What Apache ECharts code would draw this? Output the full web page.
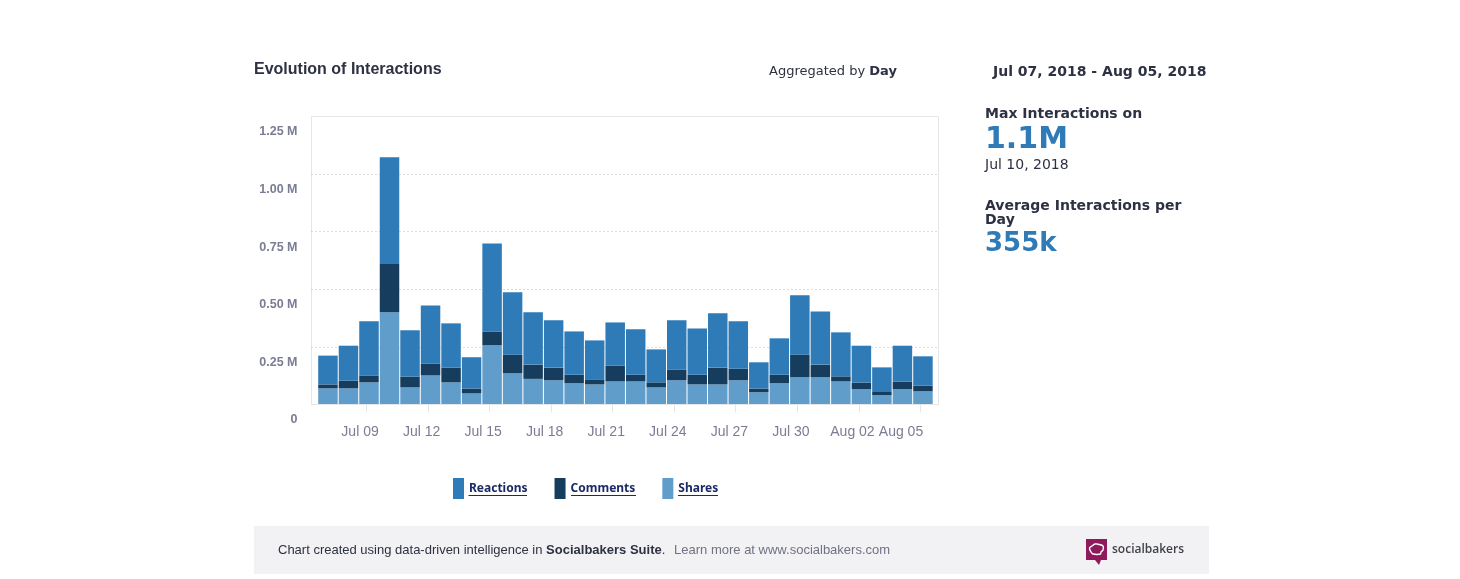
<!DOCTYPE html>
<html>
<head>
<meta charset="utf-8">
<title>Evolution of Interactions</title>
<script src="https://cdn.jsdelivr.net/npm/echarts@6/dist/echarts.min.js"></script>
<style>
  html, body { margin: 0; padding: 0; background: #fff; }
  #chart { width: 1460px; height: 579px; }
</style>
</head>
<body>
<div id="chart"></div>
<script>
var days = [
  'Jul 07', 'Jul 08', 'Jul 09', 'Jul 10', 'Jul 11', 'Jul 12', 'Jul 13', 'Jul 14', 'Jul 15', 'Jul 16',
  'Jul 17', 'Jul 18', 'Jul 19', 'Jul 20', 'Jul 21', 'Jul 22', 'Jul 23', 'Jul 24', 'Jul 25', 'Jul 26',
  'Jul 27', 'Jul 28', 'Jul 29', 'Jul 30', 'Jul 31', 'Aug 01', 'Aug 02', 'Aug 03', 'Aug 04', 'Aug 05'
];
var shares = [68000, 68000, 94000, 398000, 72000, 124000, 94000, 46000, 255000, 133000, 109000, 103000, 90000, 85000, 98000, 98000, 72000, 103000, 85000, 85000, 103000, 51000, 90000, 116000, 116000, 98000, 64000, 38000, 64000, 55000];
var comments = [17000, 33000, 29000, 210000, 47000, 51000, 64000, 21000, 59000, 81000, 62000, 55000, 37000, 22000, 68000, 29000, 22000, 46000, 42000, 73000, 50000, 16000, 37000, 98000, 55000, 22000, 29000, 14000, 33000, 25000];
var reactions = [125000, 152000, 236000, 463000, 201000, 253000, 192000, 136000, 383000, 271000, 227000, 205000, 188000, 169000, 188000, 197000, 143000, 214000, 201000, 236000, 206000, 114000, 158000, 258000, 231000, 191000, 160000, 107000, 156000, 127000];
var labelDays = [2, 5, 8, 11, 14, 17, 20, 23, 26, 29];

var darkText = '#2d3142';
var axisText = '#7a7d93';

function barSeries(name, values, color) {
  return {
    name: name,
    type: 'bar',
    stack: 'interactions',
    xAxisIndex: 1,
    yAxisIndex: 1,
    barWidth: 19.5,
    data: values,
    itemStyle: { color: color },
    emphasis: { disabled: true }
  };
}

function text(x, y, str, font, color) {
  return {
    type: 'text',
    x: x,
    y: y,
    style: { text: str, font: font, fill: color || darkText, textVerticalAlign: 'middle' }
  };
}

function underline(x1, x2) {
  return {
    type: 'line',
    shape: { x1: x1, y1: 495.5, x2: x2, y2: 495.5 },
    style: { stroke: '#1b2a66', lineWidth: 1 }
  };
}

var chart = echarts.init(document.getElementById('chart'));
chart.setOption({
  animation: false,
  title: {
    text: 'Evolution of Interactions',
    left: 254,
    top: 61.5,
    padding: 0,
    textStyle: { fontFamily: 'Liberation Sans', fontSize: 16, fontWeight: 'bold', color: darkText }
  },
  legend: {
    left: 453,
    top: 478,
    padding: 0,
    itemWidth: 11,
    itemHeight: 21,
    itemGap: 27,
    icon: 'rect',
    selectedMode: false,
    data: ['Reactions', 'Comments', 'Shares'],
    textStyle: { fontFamily: 'Noto Sans', fontSize: 12, fontWeight: 'bold', color: '#1b2a66', padding: [7, 0, 0, 0] }
  },
  // outer grid holds the frame and the axes, inner grid holds the bars with a small inset
  grid: [
    {
      left: 311.5,
      top: 116.5,
      width: 627,
      height: 288,
      show: true,
      borderColor: '#e6e6e6',
      borderWidth: 1,
      backgroundColor: '#fff'
    },
    {
      left: 317.7,
      top: 116,
      width: 615.5,
      height: 288
    }
  ],
  xAxis: [
    {
      type: 'value',
      gridIndex: 0,
      min: -0.804,
      max: 29.755,
      splitLine: { show: false },
      axisLine: { show: true, lineStyle: { color: '#e6e6e6' } },
      axisTick: {
        show: true,
        length: 8,
        lineStyle: { color: '#e6e6e6' },
        customValues: labelDays.map(function (d) { return d - 0.13; })
      },
      axisLabel: {
        customValues: labelDays,
        margin: 21,
        hideOverlap: false,
        fontFamily: 'Liberation Sans',
        fontSize: 14,
        color: axisText,
        padding: [0, 18, 0, 0],
        formatter: function (v) {
          var name = days[v];
          return v === 29 ? '{last|' + name + '}' : name;
        },
        rich: {
          last: { fontFamily: 'Liberation Sans', fontSize: 14, color: axisText, padding: [0, 26, 0, 0] }
        }
      }
    },
    {
      type: 'category',
      gridIndex: 1,
      data: days,
      show: false
    }
  ],
  yAxis: [
    {
      type: 'value',
      gridIndex: 0,
      min: 0,
      max: 1250000,
      interval: 250000,
      axisLine: { show: false },
      axisTick: { show: false },
      splitLine: {
        show: true,
        showMinLine: false,
        showMaxLine: false,
        lineStyle: { color: '#bdbdbd', type: [1, 3], width: 1 }
      },
      axisLabel: {
        margin: 14,
        fontFamily: 'Liberation Sans',
        fontSize: 12.5,
        fontWeight: 'bold',
        color: axisText,
        verticalAlign: 'top',
        padding: [9, 0, 0, 0],
        formatter: function (v) {
          return v === 0 ? '0' : (v / 1000000).toFixed(2) + ' M';
        }
      }
    },
    {
      type: 'value',
      gridIndex: 1,
      min: 0,
      max: 1250000,
      show: false,
      splitLine: { show: false }
    }
  ],
  series: [
    barSeries('Shares', shares, '#619dcb'),
    barSeries('Comments', comments, '#173d5e'),
    barSeries('Reactions', reactions, '#2e7bb8')
  ],
  graphic: [
    // header
    {
      type: 'text',
      x: 769,
      y: 72,
      style: {
        text: 'Aggregated by {b|Day}',
        font: '13px "DejaVu Sans"',
        fill: darkText,
        textVerticalAlign: 'middle',
        rich: { b: { font: 'bold 13px "DejaVu Sans"', fill: darkText } }
      }
    },
    text(993, 72, 'Jul 07, 2018 - Aug 05, 2018', 'bold 14px "DejaVu Sans"'),

    // side stats
    text(985, 114, 'Max Interactions on', 'bold 14px "DejaVu Sans"'),
    text(985, 140.5, '1.1M', 'bold 30px "DejaVu Sans"', '#2e7bb8'),
    text(985, 165, 'Jul 10, 2018', '14px "DejaVu Sans"'),
    text(985, 206, 'Average Interactions per', 'bold 14px "DejaVu Sans"'),
    text(985, 220, 'Day', 'bold 14px "DejaVu Sans"'),
    text(985, 244.5, '355k', 'bold 26px "DejaVu Sans"', '#2e7bb8'),

    // legend underlines
    underline(468.5, 527),
    underline(571, 636),
    underline(678, 718),

    // footer
    { type: 'rect', z: -1, shape: { x: 254, y: 526, width: 955, height: 48 }, style: { fill: '#f2f2f5' } },
    {
      type: 'text',
      x: 278,
      y: 550,
      style: {
        text: 'Chart created using data-driven intelligence in {b|Socialbakers Suite}.  {g|Learn more at www.socialbakers.com}',
        font: '13px "Liberation Sans"',
        fill: darkText,
        textVerticalAlign: 'middle',
        rich: {
          b: { font: 'bold 13px "Liberation Sans"', fill: darkText },
          g: { font: '13px "Liberation Sans"', fill: '#6f7285', padding: [0, 0, 0, 1.5] }
        }
      }
    },

    // logo
    {
      type: 'polygon',
      shape: { points: [[1086, 539], [1107, 539], [1107, 560], [1101, 560], [1099, 565], [1095, 560], [1086, 560]] },
      style: { fill: '#8e1a5c' }
    },
    {
      type: 'polygon',
      shape: { points: [[1091, 552], [1089.5, 548], [1092, 546], [1095, 544], [1099, 544.5], [1103, 546], [1103, 550], [1101, 552], [1100.5, 554], [1093, 554]], smooth: 0.4 },
      style: { fill: 'none', stroke: '#fff', lineWidth: 1.4 }
    },
    text(1112, 549.5, 'socialbakers', '600 12px "Open Sans"', '#3f4247')
  ]
});
</script>
</body>
</html>
